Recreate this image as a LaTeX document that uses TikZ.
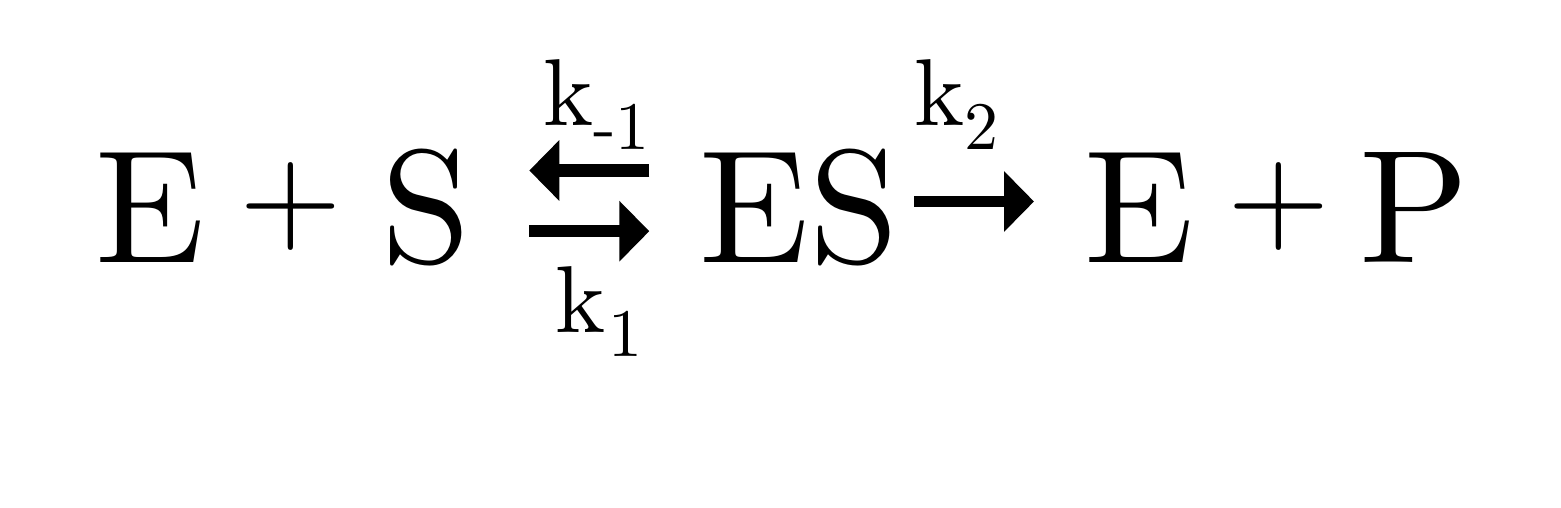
\documentclass[tikz,border=0pt]{standalone}
\usepackage{fontspec}
\setmainfont{lmroman10-regular.otf}
\usetikzlibrary{arrows.meta}
\tikzset{
  big/.style={inner sep=0pt, outer sep=0pt, anchor=base, font=\fontsize{161}{161}\selectfont},
  plussign/.style={inner sep=0pt, outer sep=0pt, anchor=base, font=\fontsize{132}{132}\selectfont},
  klabel/.style={inner sep=0pt, outer sep=0pt, anchor=base west, font=\fontsize{95}{95}\selectfont},
  rxn/.style={line width=12.4pt, line cap=butt, -{Triangle[length=30pt,width=59pt]}},
}
\newcommand{\ksub}[1]{\raisebox{-24pt}{\fontsize{68}{68}\selectfont #1}}
\begin{document}
\begin{tikzpicture}[x=1pt,y=-1pt]
\useasboundingbox[fill=white] (0,0) rectangle (1561,508);
% species
\node[big] (E1) at (150.7,262) {E};
\node[plussign] (plus1) at (290.8,239) {+};
\node[big] (S1) at (426.5,262) {S};
\node[big] (ES) at (799,262) {ES};
\node[big] (E2) at (1139.2,262) {E};
\node[plussign] (plus2) at (1279,239) {+};
\node[big] (P) at (1414,262) {P};
% rate constants
\node[klabel] (km1) at (543,126) {k\ksub{-1}};
\node[klabel] (k1) at (555,332) {k\kern3pt\ksub{1}};
\node[klabel] (k2) at (914,126) {k\ksub{2}};
% arrow ends
\coordinate (revstart) at (649.3,170.5);
\coordinate (revend) at (529.3,170.5);
\coordinate (fwdstart) at (529,231.2);
\coordinate (fwdend) at (649.3,231.2);
\coordinate (catstart) at (914,201.5);
\coordinate (catend) at (1034,201.5);
\draw[rxn] (revstart) -- (revend);
\draw[rxn] (fwdstart) -- (fwdend);
\draw[rxn, line width=11.6pt] (catstart) -- (catend);
\end{tikzpicture}
\end{document}
